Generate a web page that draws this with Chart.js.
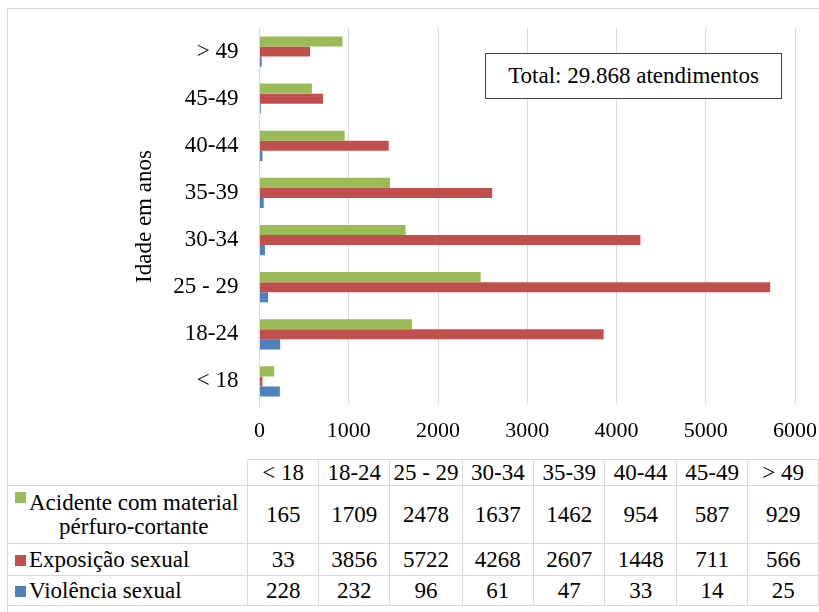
<!DOCTYPE html>
<html lang="pt">
<head>
<meta charset="utf-8">
<title>Atendimentos por faixa etária</title>
<script src="https://cdn.jsdelivr.net/npm/chart.js@4/dist/chart.umd.min.js"></script>
<style>
  html, body { margin: 0; padding: 0; width: 819px; height: 612px; overflow: hidden; background: #fff; }
  body { position: relative; font-family: "Liberation Serif", "Times New Roman", serif; color: #000; }
  #frame { position: absolute; left: 7px; top: 8px; width: 840px; height: 640px; border: 1px solid #d9d9d9; box-sizing: border-box; }
  #chart { position: absolute; left: 0; top: 0; }
  #total { position: absolute; left: 485px; top: 53px; width: 297px; height: 46px; box-sizing: border-box;
           border: 1px solid #404040; background: #fff; font-size: 23px; line-height: 44px; text-align: center; }
  #dataTable { position: absolute; left: 7px; top: 459px; border-collapse: collapse; table-layout: fixed; font-size: 23px; }
  #dataTable td { border: 1px solid #d9d9d9; padding: 0; text-align: center; white-space: nowrap; line-height: 24px; }
  #dataTable td.blank { border-top: none; border-left: none; }
  #dataTable td.name { text-align: left; padding-left: 7px; }
  .key { display: inline-block; width: 11px; height: 11px; margin-right: 3px; vertical-align: 1px; }
  .wrap { display: inline-block; text-align: center; vertical-align: middle; }
</style>
</head>
<body>
<div id="frame"></div>
<canvas id="chart" width="819" height="450"></canvas>
<div id="total">Total: 29.868 atendimentos</div>
<table id="dataTable"></table>
<script>
// Age groups, in the order used by the data table (youngest first)
const ageGroups = ['< 18', '18-24', '25 - 29', '30-34', '35-39', '40-44', '45-49', '> 49'];

// Number of cases per age group
const sharpInjury    = [165, 1709, 2478, 1637, 1462, 954, 587, 929];
const sexualExposure = [33, 3856, 5722, 4268, 2607, 1448, 711, 566];
const sexualViolence = [228, 232, 96, 61, 47, 33, 14, 25];

const seriesNames  = ['Acidente com material pérfuro-cortante', 'Exposição sexual', 'Violência sexual'];
const seriesColors = ['#9bbb59', '#c0504d', '#4f81bd'];

// Value axis ticks
const xTicks = [0, 1000, 2000, 3000, 4000, 5000, 6000];

const serif = '"Liberation Serif", "Times New Roman", serif';
const seriesValues = [sharpInjury, sexualExposure, sexualViolence];

new Chart(document.getElementById('chart'), {
  type: 'bar',
  data: {
    labels: ageGroups,
    datasets: seriesValues.map((values, i) => ({
      label: seriesNames[i],
      data: values,
      backgroundColor: seriesColors[i],
      borderWidth: 0,
      categoryPercentage: 0.64,
      barPercentage: 1.0
    }))
  },
  options: {
    indexAxis: 'y',
    responsive: false,
    animation: false,
    layout: { padding: { left: 130, top: 28, right: 24, bottom: 0 } },
    plugins: { legend: { display: false }, tooltip: { enabled: false } },
    scales: {
      x: {
        min: xTicks[0],
        max: xTicks[xTicks.length - 1],
        afterBuildTicks: (scale) => { scale.ticks = xTicks.map(v => ({ value: v })); },
        afterFit: (scale) => { scale.height = 45; scale.paddingLeft = 0; scale.paddingRight = 0; },
        ticks: { color: '#000', font: { family: serif, size: 22 }, padding: 13, callback: (v) => String(v) },
        grid: { color: '#d9d9d9', drawTicks: false },
        border: { display: false }
      },
      y: {
        reverse: true,
        afterFit: (scale) => { scale.width = 129.5; scale.paddingTop = 0; scale.paddingBottom = 0; },
        ticks: { color: '#000', font: { family: serif, size: 23 }, padding: 21 },
        grid: { display: false, drawTicks: false },
        border: { color: '#d9d9d9' },
        title: { display: true, text: 'Idade em anos', color: '#000', font: { family: serif, size: 23 }, padding: { top: 1, bottom: 0 } }
      }
    }
  }
});

// Data table beneath the chart
const table = document.getElementById('dataTable');
const colWidths = [241].concat(ageGroups.map(() => 72.6));
const colgroup = document.createElement('colgroup');
colWidths.forEach(w => { const c = document.createElement('col'); c.style.width = w + 'px'; colgroup.appendChild(c); });
table.appendChild(colgroup);

const header = table.insertRow();
header.style.height = '26px';
const blank = header.insertCell(); blank.className = 'blank';
ageGroups.forEach(g => { header.insertCell().textContent = g; });

const rowHeights = [58, 32, 30];
seriesValues.forEach((values, i) => {
  const row = table.insertRow();
  row.style.height = rowHeights[i] + 'px';
  const nameCell = row.insertCell();
  nameCell.className = 'name';
  const key = document.createElement('span');
  key.className = 'key';
  key.style.background = seriesColors[i];
  nameCell.appendChild(key);
  if (i === 0) {
    key.style.verticalAlign = '17px';
    const wrap = document.createElement('span');
    wrap.className = 'wrap';
    wrap.innerHTML = 'Acidente com material<br>pérfuro-cortante';
    nameCell.appendChild(wrap);
  } else {
    nameCell.appendChild(document.createTextNode(seriesNames[i]));
  }
  values.forEach(v => { row.insertCell().textContent = String(v); });
});
</script>
</body>
</html>
